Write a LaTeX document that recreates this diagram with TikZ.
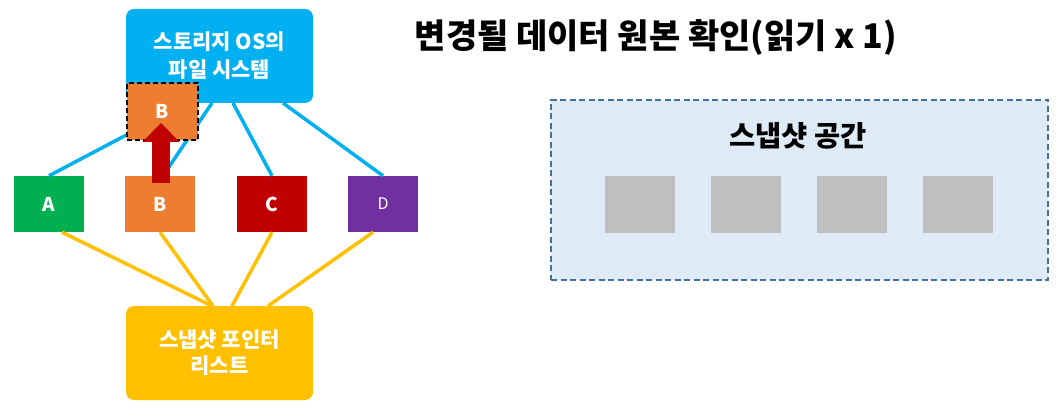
\documentclass[tikz,border=0pt]{standalone}
\usepackage{fontspec}
\setmainfont{Noto Sans CJK KR}
\usetikzlibrary{arrows.meta,calc}
\definecolor{fsblue}{HTML}{00B0F0}
\definecolor{bor}{HTML}{ED7D31}
\definecolor{agreen}{HTML}{00B050}
\definecolor{cred}{HTML}{C00000}
\definecolor{dpurple}{HTML}{7030A0}
\definecolor{pyellow}{HTML}{FFC000}
\definecolor{snapfill}{HTML}{DEEBF7}
\definecolor{snapline}{HTML}{41719C}
\definecolor{sgray}{HTML}{BFBFBF}
\tikzset{
  bigbox/.style={rounded corners=8pt, minimum width=187pt, minimum height=94pt, inner sep=0pt, text=white, font=\fontsize{21}{28}\selectfont\bfseries, align=center},
  datablock/.style={minimum width=70pt, minimum height=56pt, inner sep=0pt, text=white, font=\fontsize{19}{22}\selectfont\bfseries},
  grayblock/.style={fill=sgray, minimum width=70pt, minimum height=57pt, inner sep=0pt},
  bluelink/.style={draw=fsblue, line width=3.5pt},
  yellowlink/.style={draw=pyellow, line width=3.5pt},
}
\begin{document}
\begin{tikzpicture}[x=1pt,y=-1pt]
\useasboundingbox[fill=white] (0,0) rectangle (1064,411);
% data blocks
\node[datablock, fill=agreen] (A) at (49,204) {A};
\node[datablock, fill=bor] (B) at (160,204) {B};
\node[datablock, fill=cred] (C) at (272,204) {C};
\node[datablock, fill=dpurple, font=\fontsize{16}{20}\selectfont] (D) at (383,204) {D};
% file system and pointer list boxes (positions)
\coordinate (fsbot) at (219.5,103);
\coordinate (ptrtop) at (219.5,306);
% links (drawn before boxes)
\path[bluelink] (A.north) -- ($(fsbot)+(-32.5,0)$);
\path[bluelink] ($(B.north)+(3,0)$) -- ($(fsbot)+(-7.5,0)$);
\path[bluelink] (C.north) -- ($(fsbot)+(13.5,0)$);
\path[bluelink] (D.north) -- ($(fsbot)+(63.5,0)$);
\path[yellowlink] ($(A.south)+(13,0)$) -- ($(ptrtop)+(-7.5,0)$);
\path[yellowlink] (B.south) -- ($(ptrtop)+(-6.5,0)$);
\path[yellowlink] (C.south) -- ($(ptrtop)+(12.5,0)$);
\path[yellowlink] ($(D.south)+(-10,0)$) -- ($(ptrtop)+(48.5,0)$);
\node[bigbox, fill=fsblue] (fs) at (219.5,56) {스토리지 OS의\\파일 시스템};
\node[bigbox, fill=pyellow, font=\fontsize{21}{26}\selectfont\bfseries] (ptr) at (219.5,353) {스냅샷 포인터\\리스트};
\node[datablock, fill=bor, minimum width=71pt, minimum height=57pt, draw=black, line width=2pt, dash pattern=on 5pt off 3pt] (Bc) at (162.5,111.5) {B};
% red block arrow
\draw[cred, line width=18pt, -{Triangle[width=36pt,length=19pt]}] ($(B.north)+(1,7)$) -- ($(Bc.center)+(-1.5,11.5)$);
% title
\node[font=\fontsize{34}{40}\selectfont\bfseries] (title) at (656,38) {변경될 데이터 원본 확인(읽기 x 1)};
% snapshot space
\node[fill=snapfill, draw=snapline, line width=2.5pt, dash pattern=on 6pt off 3.5pt, minimum width=497pt, minimum height=180pt, inner sep=0pt] (snap) at (799.5,190) {};
\node[font=\fontsize{28.5}{32}\selectfont\bfseries] (snaptitle) at (798,136) {스냅샷 공간};
\node[grayblock] (g1) at (640,204.5) {};
\node[grayblock] (g2) at (746,204.5) {};
\node[grayblock] (g3) at (851.5,204.5) {};
\node[grayblock] (g4) at (957.5,204.5) {};
\end{tikzpicture}
\end{document}
